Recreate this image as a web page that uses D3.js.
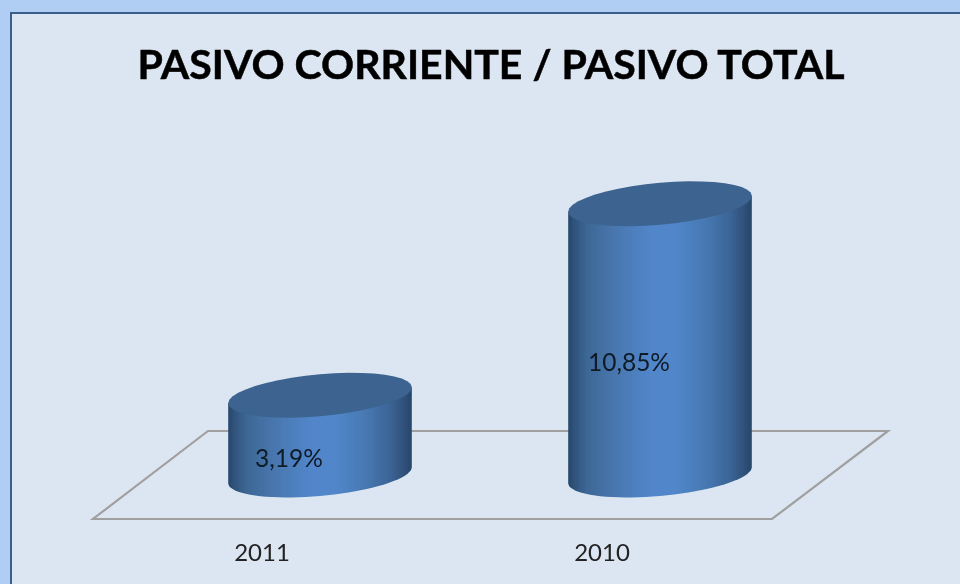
<!DOCTYPE html>
<html><head><meta charset="utf-8">
<script src="https://cdn.jsdelivr.net/npm/d3@7"></script>
<style>html,body{margin:0;padding:0;background:#dce6f2}svg{display:block}</style>
</head><body><svg id="c" width="960" height="584"></svg>
<script>
const titleText = "PASIVO CORRIENTE / PASIVO TOTAL";
const categories = ["2011", "2010"];
const values = [3.19, 10.85];
const valueLabels = ["3,19%", "10,85%"];

const svg = d3.select("#c");
const defs = svg.append("defs");

const x = d3.scaleBand().domain(categories).range([150, 830]);
const y = d3.scaleLinear().domain([0, 10.85]).range([475, 203.75]);

const side = defs.append("linearGradient").attr("id", "side");
[[0,"#27476b"],[0.03,"#2f5279"],[0.1,"#3d6795"],[0.28,"#4a79b3"],[0.45,"#5186ca"],[0.58,"#5187ca"],[0.75,"#4778b2"],[0.88,"#3b6596"],[0.96,"#2f5079"],[1,"#27466a"]]
  .forEach(([o,c]) => side.append("stop").attr("offset", o).attr("stop-color", c));
const soft = defs.append("filter").attr("id", "soft").attr("x", "-5%").attr("y", "-5%").attr("width", "110%").attr("height", "110%");
soft.append("feGaussianBlur").attr("stdDeviation", 0.5);

// page and frame
svg.append("rect").attr("width", 960).attr("height", 584).attr("fill", "#b0cef4");
svg.append("rect").attr("x", 11).attr("y", 13).attr("width", 960).attr("height", 600)
  .attr("fill", "#dce6f2").attr("stroke", "#3a5f8c").attr("stroke-width", 2);

// title
svg.append("text").attr("x", 491).attr("y", 79).attr("text-anchor", "middle")
  .attr("font-family", "Lato").attr("font-weight", 700).attr("font-size", 41).attr("fill", "#050505")
  .attr("stroke", "#050505").attr("stroke-width", 0.5)
  .attr("filter", "url(#soft)").text(titleText);

// floor
svg.append("path").attr("d", "M93,519 L772,519 L888,431 L208,431 Z")
  .attr("fill", "none").attr("stroke", "#a0a0a0").attr("stroke-width", 2.2).attr("filter", "url(#soft)");

// cylinders
const halfW = x.bandwidth() * 0.27, skew = 8, minor = 21;
const rim = (cx, cy, a0, a1) => d3.range(0, 41).map(i => {
  const t = a0 + (a1 - a0) * i / 40;
  return [cx + halfW * Math.cos(t), cy + minor * Math.sin(t) - skew * Math.cos(t)];
});
const line = d3.line();
const g = svg.append("g").attr("filter", "url(#soft)");
categories.forEach((cat, i) => {
  const cx = x(cat) + x.bandwidth() / 2, top = y(values[i]), base = y(0);
  const body = [rim(cx, top, 0, 0)[0], rim(cx, top, Math.PI, Math.PI)[0], ...rim(cx, base, Math.PI, 0)];
  g.append("path").attr("d", line(body) + "Z").attr("fill", "url(#side)");
  g.append("path").attr("d", line(rim(cx, top, 0, 2 * Math.PI)) + "Z").attr("fill", "#3c6390");
});

// value labels
svg.append("g").selectAll("text").data(categories).join("text")
  .attr("x", d => x(d) + x.bandwidth() / 2 - 31)
  .attr("y", (d, i) => (y(values[i]) + y(0)) / 2 + 32)
  .attr("text-anchor", "middle").attr("font-family", "Lato").attr("font-size", 24.5).attr("fill", "#111a26")
  .attr("filter", "url(#soft)")
  .text((d, i) => valueLabels[i]);

// category axis
const ax = svg.append("g").attr("transform", "translate(-58,544)")
  .call(d3.axisBottom(x).tickSize(0).tickPadding(0));
ax.select(".domain").remove();
ax.selectAll("text").attr("font-family", "Lato").attr("font-size", 24).attr("fill", "#222")
  .attr("filter", "url(#soft)").attr("dy", "0.71em");
</script></body></html>
